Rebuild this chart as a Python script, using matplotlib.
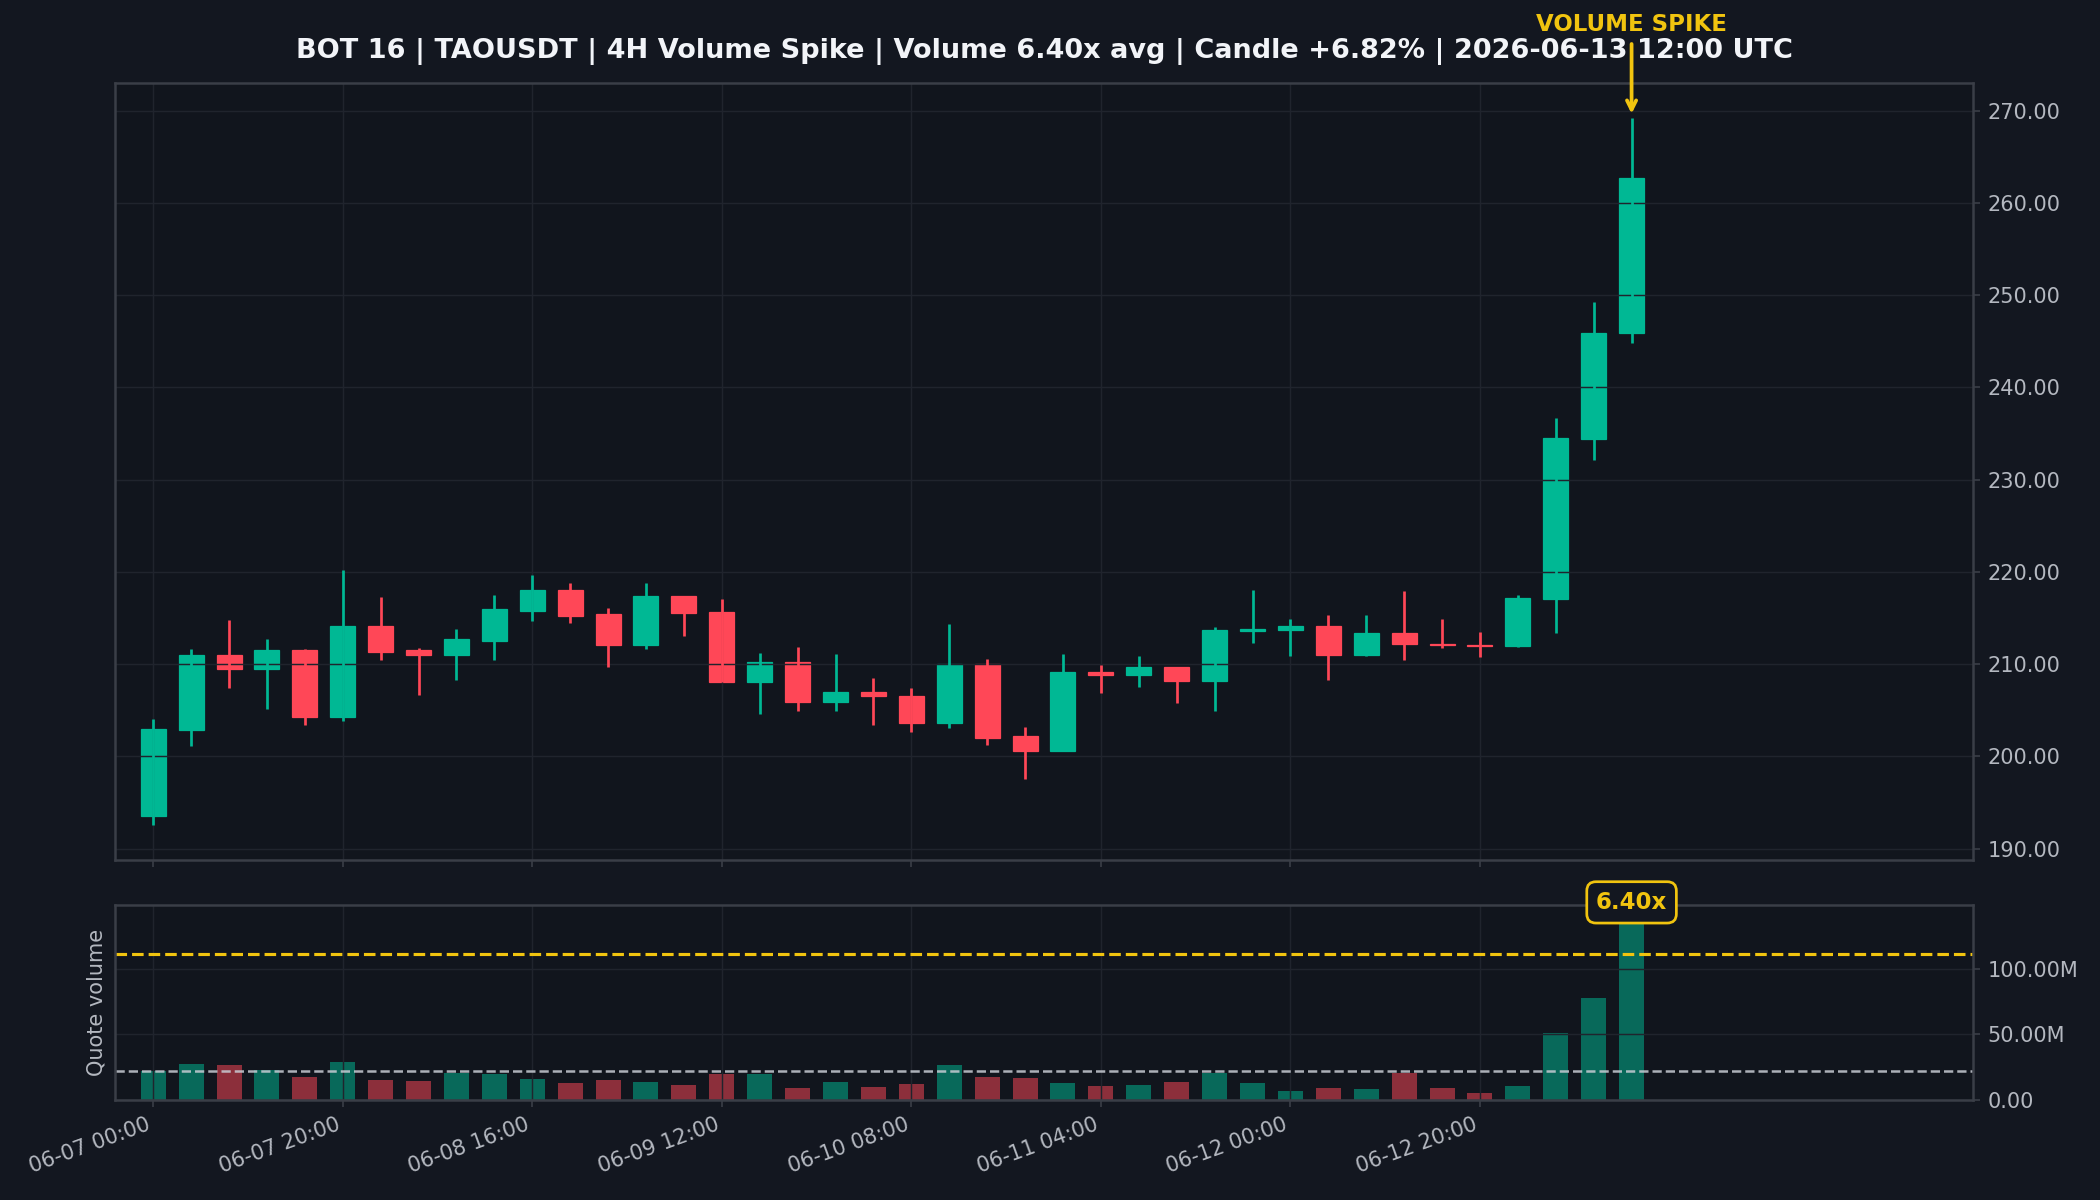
import matplotlib
matplotlib.use("Agg")
import matplotlib.pyplot as plt
import matplotlib.dates as mdates
import matplotlib.ticker as mticker
import numpy as np
import pandas as pd

# 4H candles, TAOUSDT
opens = [193.5, 202.9, 211.0, 209.5, 211.5, 204.3, 214.1, 211.5, 211.0, 212.5,
         215.8, 218.0, 215.4, 212.1, 217.4, 215.6, 208.1, 210.2, 205.9, 207.0,
         206.6, 203.6, 210.0, 202.2, 200.6, 209.1, 208.8, 209.7, 208.2, 213.6,
         213.7, 214.1, 211.0, 213.4, 212.2, 212.1, 212.0, 217.1, 234.4, 245.9]
highs = [204.1, 211.6, 214.8, 212.7, 211.6, 220.2, 217.3, 211.7, 213.8, 217.5,
         219.7, 218.8, 216.1, 218.8, 217.4, 217.1, 211.2, 211.9, 211.1, 208.5,
         207.4, 214.4, 210.6, 203.2, 211.1, 209.9, 210.9, 209.7, 214.0, 218.0,
         214.9, 215.3, 215.3, 217.9, 214.9, 213.5, 217.5, 236.7, 249.3, 269.2]
lows = [192.6, 201.1, 207.4, 205.1, 203.4, 203.8, 210.4, 206.7, 208.3, 210.4,
        214.7, 214.5, 209.7, 211.6, 213.0, 208.1, 204.6, 204.9, 204.9, 203.4,
        202.6, 203.1, 201.2, 197.5, 200.6, 206.9, 207.5, 205.8, 204.9, 212.3,
        210.9, 208.3, 210.9, 210.4, 211.7, 210.8, 211.9, 213.4, 232.1, 244.8]
closes = [203.0, 211.0, 209.5, 211.5, 204.3, 214.1, 211.3, 211.0, 212.7, 216.0,
          218.0, 215.2, 212.1, 217.4, 215.5, 208.1, 210.2, 205.9, 207.0, 206.5,
          203.6, 210.0, 202.0, 200.6, 209.1, 208.8, 209.7, 208.2, 213.7, 213.8,
          214.1, 211.0, 213.4, 212.2, 212.1, 212.0, 217.2, 234.5, 245.9, 262.7]
# quote volume, millions USDT
volumes_m = [22.2, 27.6, 26.8, 23.0, 17.6, 29.1, 15.3, 14.5, 20.7, 19.9,
             16.1, 13.0, 15.3, 13.8, 11.5, 19.9, 19.9, 9.2, 13.8, 9.9,
             12.2, 26.8, 17.6, 16.8, 13.0, 10.7, 11.5, 13.8, 20.7, 13.0,
             6.9, 9.2, 8.4, 20.7, 9.2, 5.4, 10.7, 51.0, 78.1, 142.2]
avg_volume_m = 22.22
spike_mult = 5.0
spike_ratio = "6.40x"
title = ("BOT 16 | TAOUSDT | 4H Volume Spike | Volume 6.40x avg | "
         "Candle +6.82% | 2026-06-13 12:00 UTC")

BG = '#131720'
AX_BG = '#11151d'
GREEN = '#00b894'
RED = '#ff4757'
YELLOW = '#f1c40f'
GRID = '#20242d'
SPINE = '#3a3e47'
TICK = '#b4b8c0'

times = mdates.date2num(pd.date_range('2026-06-07 00:00', periods=len(opens), freq='4h'))
bar = 4 / 24
width = bar * 0.66
opens = np.array(opens)
closes = np.array(closes)
volumes = np.array(volumes_m) * 1e6
up = closes >= opens
colors = np.where(up, GREEN, RED)

fig = plt.figure(figsize=(14, 8), dpi=150, facecolor=BG)
ax = fig.add_axes([0.0549, 0.2833, 0.8845, 0.6479])
axv = fig.add_axes([0.0549, 0.0837, 0.8845, 0.1625], sharex=ax)

for a in (ax, axv):
    a.set_facecolor(AX_BG)
    for s in a.spines.values():
        s.set_color(SPINE)
        s.set_linewidth(1.2)
    a.grid(True, color=GRID, linewidth=0.7)
    a.yaxis.tick_right()
    a.tick_params(colors=SPINE, labelcolor=TICK, labelsize=10, length=3.5)

# candles
ax.vlines(times, lows, highs, colors=colors, linewidth=1.3)
ax.bar(times, np.abs(closes - opens), bottom=np.minimum(opens, closes), width=width,
       color=colors, edgecolor=colors, linewidth=0.6)
ax.yaxis.set_major_formatter(mticker.FuncFormatter(lambda v, p: f'{v:.2f}'))
ax.tick_params(axis='x', labelbottom=False)
ax.set_xlim(times[0] - bar, times[-1] + 9 * bar)
ax.set_title(title, color='#f2f4f8', fontsize=13, fontweight='bold', pad=12)

ax.annotate('VOLUME SPIKE', xy=(times[-1], highs[-1]), xytext=(0, 45),
            textcoords='offset points', ha='center', va='center', color=YELLOW,
            fontsize=11, fontweight='bold', annotation_clip=False,
            arrowprops=dict(arrowstyle='->', color=YELLOW, lw=1.8))

# volume
axv.bar(times, volumes, width=width, color=colors, alpha=0.52)
axv.axhline(avg_volume_m * 1e6, color='#c8ccd4', linestyle='--', linewidth=1.2, alpha=0.85)
axv.axhline(avg_volume_m * spike_mult * 1e6, color=YELLOW, linestyle='--', linewidth=1.5)
axv.set_ylim(0, volumes.max() * 1.05)
axv.yaxis.set_major_locator(mticker.MultipleLocator(50e6))
axv.yaxis.set_major_formatter(mticker.FuncFormatter(
    lambda v, p: f'{v / 1e6:.2f}M' if v >= 1e6 else f'{v:.2f}'))
axv.set_ylabel('Quote volume', color=TICK, fontsize=10)
axv.yaxis.set_label_position('left')
axv.annotate(spike_ratio, xy=(times[-1], volumes[-1]), xytext=(0, 5.5),
             textcoords='offset points', ha='center', va='center', color=YELLOW,
             fontsize=11, fontweight='bold', annotation_clip=False,
             bbox=dict(boxstyle='round,pad=0.4', fc=BG, ec=YELLOW, lw=1.3))

axv.xaxis.set_major_locator(mticker.FixedLocator(times[::5]))
axv.xaxis.set_major_formatter(mdates.DateFormatter('%m-%d %H:%M'))
for lbl in axv.get_xticklabels():
    lbl.set_rotation(20)
    lbl.set_ha('right')

fig.savefig('out.png', facecolor=BG)
